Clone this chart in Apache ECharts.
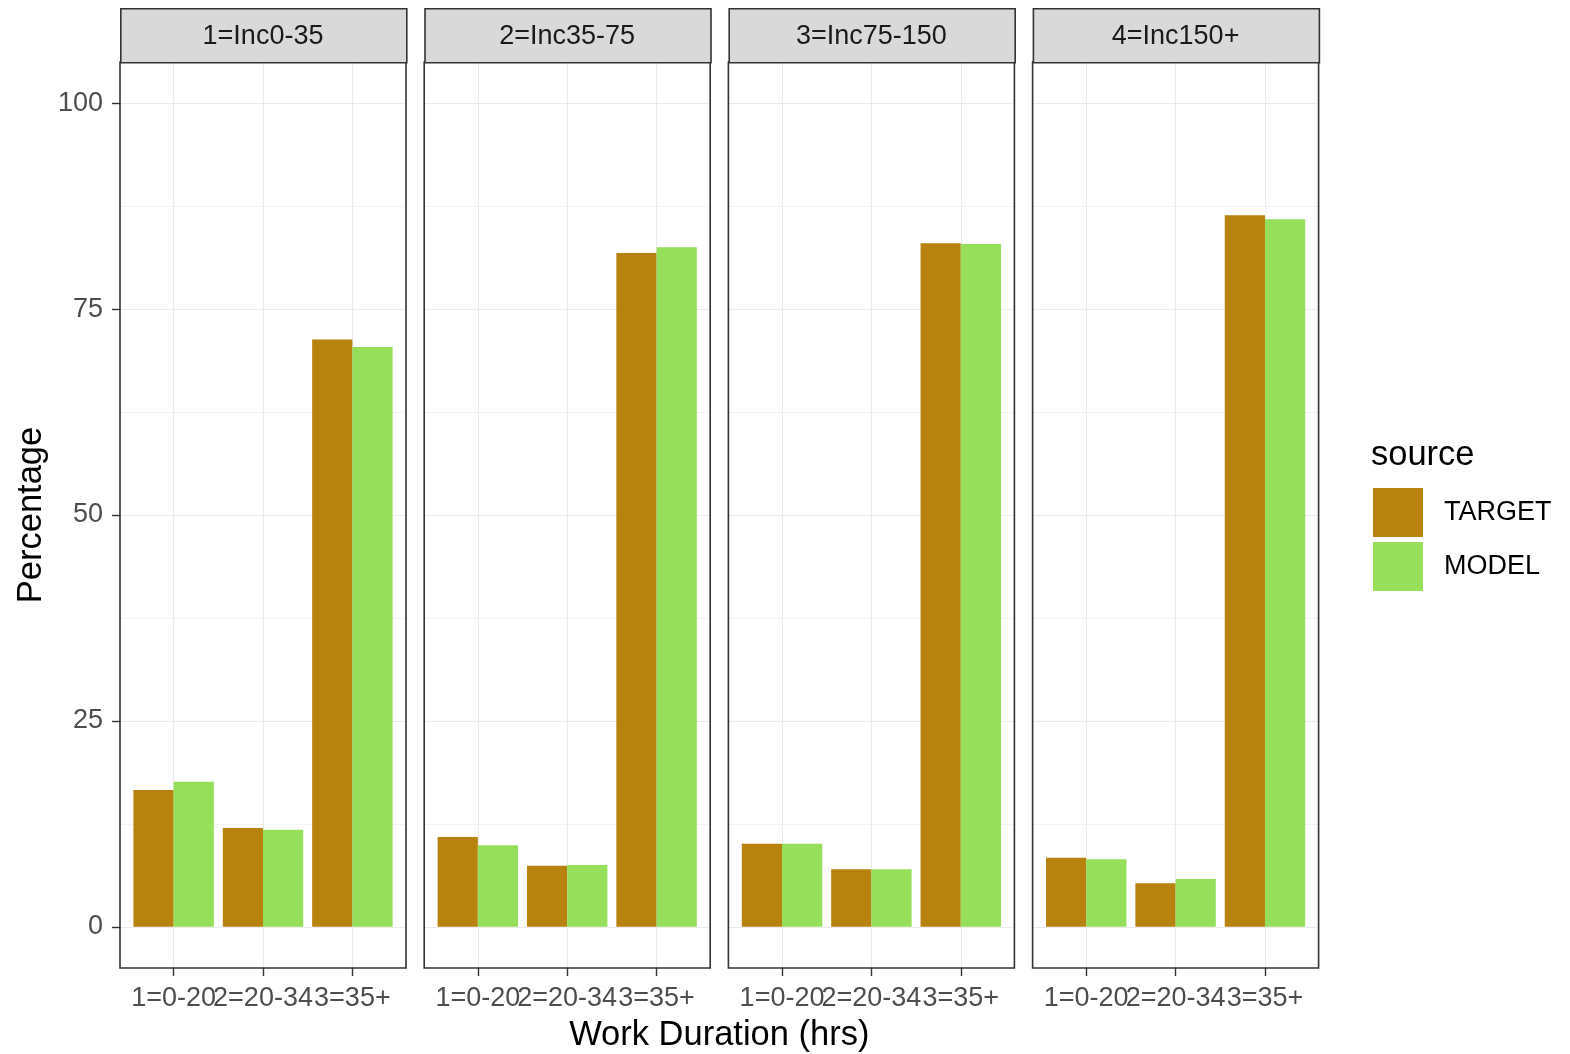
<!DOCTYPE html>
<html>
<head>
<meta charset="utf-8">
<script src="https://cdn.jsdelivr.net/npm/echarts@6/dist/echarts.min.js"></script>
<style>html,body{margin:0;padding:0;background:#fff}#c{width:1570px;height:1054px}</style>
</head>
<body>
<div id="c"></div>
<script>
// ---- data ----
const categories = ['1=0-20', '2=20-34', '3=35+'];
const panelNames = ['1=Inc0-35', '2=Inc35-75', '3=Inc75-150', '4=Inc150+'];
const seriesNames = ['TARGET', 'MODEL'];
const target1 = [16.6, 12.0, 71.3];
const model1  = [17.6, 11.8, 70.4];
const target2 = [10.9, 7.4, 81.8];
const model2  = [9.9, 7.5, 82.5];
const target3 = [10.1, 7.0, 83.0];
const model3  = [10.1, 7.0, 82.9];
const target4 = [8.4, 5.3, 86.4];
const model4  = [8.2, 5.8, 85.9];
const yTicks = [0, 25, 50, 75, 100];
const yMinorTicks = [12.5, 37.5, 62.5, 87.5];

const targets = [target1, target2, target3, target4];
const models = [model1, model2, model3, model4];

// ---- layout ----
const FONT = '"Liberation Sans", Arial, sans-serif';
const SMALL = 27, BIG = 34.5;
const panelLeft0 = 120, panelStep = 304.2, panelW = 286;
const panelTop = 62, panelH = 906, stripTop = 8, stripH = 54;
const xExpand = 0.6;                       // ggplot discrete expansion
const xSpan = categories.length - 1 + 2 * xExpand;
const COL_T = '#B8820E', COL_M = '#96DF5A';
const GRID_COL = '#EBEBEB', BORDER = '#333333', TXT = '#4D4D4D';

const grids = [], xAxes = [], yAxes = [], series = [], graphics = [];
for (let i = 0; i < 4; i++) {
  const left = panelLeft0 + i * panelStep;
  const unit = panelW / xSpan;
  // outer grid: full panel, border + horizontal grid lines
  grids.push({left: left, top: panelTop, width: panelW, height: panelH,
    show: true, borderColor: BORDER, borderWidth: 1.6, backgroundColor: 'transparent', z: 3});
  // inner grid: from first to last category point
  grids.push({left: left + xExpand * unit, top: panelTop, width: (categories.length - 1) * unit, height: panelH,
    show: false});
  xAxes.push({type: 'value', gridIndex: 2 * i, min: 0, max: 1, show: false,
    axisLine: {show: false, onZero: false}, splitLine: {show: false}});
  xAxes.push({type: 'category', gridIndex: 2 * i + 1, data: categories, boundaryGap: false, position: 'bottom',
    axisLine: {show: false, onZero: false},
    axisTick: {show: true, interval: 0, length: 8, lineStyle: {color: BORDER, width: 1.4}},
    axisLabel: {show: true, interval: 0, margin: 17, color: TXT, fontSize: SMALL, fontFamily: FONT,
      showMinLabel: true, showMaxLabel: true, hideOverlap: false},
    splitLine: {show: true, interval: 0, lineStyle: {color: GRID_COL, width: 1.1}}
  });
  // major y axis
  yAxes.push({type: 'value', gridIndex: 2 * i, min: -5, max: 105,
    axisLine: {show: false, onZero: false},
    axisTick: {show: i === 0, customValues: yTicks, length: 8, lineStyle: {color: BORDER, width: 1.4}},
    axisLabel: {show: i === 0, customValues: yTicks, margin: 17, color: TXT, fontSize: SMALL, fontFamily: FONT,
      showMinLabel: true, showMaxLabel: true},
    splitLine: {show: true, lineStyle: {color: GRID_COL, width: 1.1}}
  });
  // minor y grid
  yAxes.push({type: 'value', gridIndex: 2 * i, min: -5, max: 105, position: 'left',
    axisLine: {show: false, onZero: false},
    axisTick: {show: false, customValues: yMinorTicks},
    axisLabel: {show: false, customValues: yMinorTicks},
    splitLine: {show: true, lineStyle: {color: GRID_COL, width: 0.6}}
  });
  // inner y axis (same scale, hidden)
  yAxes.push({type: 'value', gridIndex: 2 * i + 1, min: -5, max: 105, show: false,
    axisLine: {show: false, onZero: false}, splitLine: {show: false}});

  const render = (side) => function (params, api) {
    const c = api.value(0), y = api.value(1);
    const band = api.size([1, 0])[0];
    const top = api.coord([c, y]);
    const base = api.coord([c, 0]);
    const w = band * 0.45;
    const x0 = side === 0 ? top[0] - w : top[0];
    return {type: 'rect', shape: {x: x0, y: top[1], width: w, height: base[1] - top[1]},
      style: {fill: api.visual('color')}};
  };
  const mk = (vals) => vals.map((v, k) => [k, v]);
  series.push({type: 'custom', name: seriesNames[0], xAxisIndex: 2 * i + 1, yAxisIndex: 3 * i + 2,
    data: mk(targets[i]), encode: {x: 0, y: 1}, itemStyle: {color: COL_T}, renderItem: render(0), z: 2, clip: false});
  series.push({type: 'custom', name: seriesNames[1], xAxisIndex: 2 * i + 1, yAxisIndex: 3 * i + 2,
    data: mk(models[i]), encode: {x: 0, y: 1}, itemStyle: {color: COL_M}, renderItem: render(1), z: 2, clip: false});
  // strip
  graphics.push({type: 'rect', left: left, top: stripTop, z: 10,
    shape: {width: panelW, height: stripH},
    style: {fill: '#D9D9D9', stroke: BORDER, lineWidth: 1.6}});
  graphics.push({type: 'text', x: left + panelW / 2, y: stripTop + stripH / 2 + 2, z: 11,
    style: {text: panelNames[i], fill: '#1A1A1A', font: SMALL + 'px ' + FONT, textAlign: 'center', textVerticalAlign: 'middle'}});
}
// axis titles
graphics.push({type: 'text', x: 31, y: panelTop + panelH / 2, rotation: Math.PI / 2,
  style: {text: 'Percentage', fill: '#000', font: BIG + 'px ' + FONT, textAlign: 'center', textVerticalAlign: 'middle'}});
graphics.push({type: 'text', x: panelLeft0 + (3 * panelStep + panelW) / 2, y: 1035,
  style: {text: 'Work Duration (hrs)', fill: '#000', font: BIG + 'px ' + FONT, textAlign: 'center', textVerticalAlign: 'middle'}});
graphics.push({type: 'text', x: 1371, y: 455,
  style: {text: 'source', fill: '#000', font: BIG + 'px ' + FONT, textAlign: 'left', textVerticalAlign: 'middle'}});

const chart = echarts.init(document.getElementById('c'), null, {renderer: 'canvas'});
chart.setOption({
  animation: false,
  backgroundColor: '#ffffff',
  grid: grids, xAxis: xAxes, yAxis: yAxes, series: series, graphic: graphics,
  legend: {data: seriesNames, orient: 'vertical', left: 1373, top: 488, padding: 0,
    icon: 'rect', itemWidth: 50, itemHeight: 49, itemGap: 5, selectedMode: false,
    textStyle: {fontSize: SMALL, color: '#000', fontFamily: FONT, padding: [0, 0, 0, 16]}}
});
</script>
</body>
</html>
